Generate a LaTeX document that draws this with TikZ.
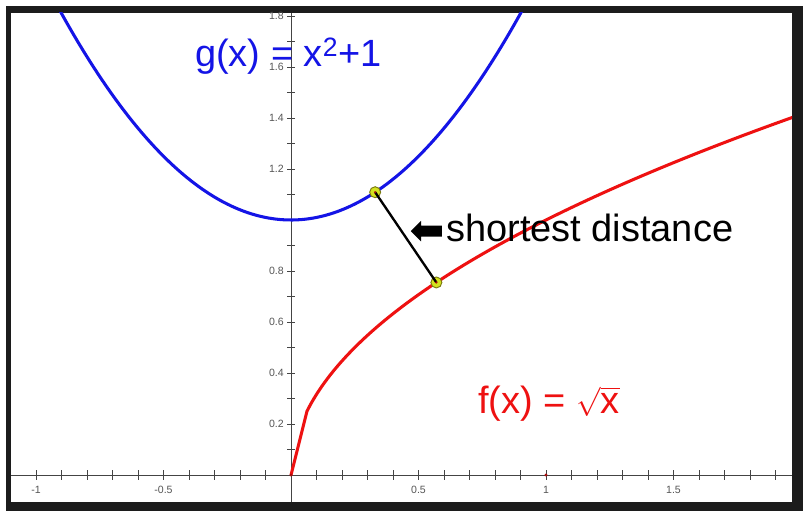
\documentclass[tikz,border=0pt]{standalone}
\usepackage{fontspec}
\setmainfont{Liberation Sans}
\usetikzlibrary{
  positioning,   % 节点相对定位
  shapes.arrows  % 粗箭头形状
}

\definecolor{framegray}{HTML}{1C1C1C}
\definecolor{axisgray}{HTML}{444444}
\definecolor{ticklabel}{HTML}{555555}
\definecolor{gblue}{HTML}{1414E6}
\definecolor{fred}{HTML}{EE1111}
\definecolor{markfill}{HTML}{D4E21E}
\definecolor{markline}{HTML}{7A7A10}

\begin{document}
\begin{tikzpicture}[x=7.65cm, y=7.65cm,
  ticklbl/.style={font=\fontsize{9}{10}\selectfont, text=ticklabel, inner sep=0pt},
  bigtext/.style={font=\fontsize{32.4}{38}\selectfont, inner sep=0pt},
  touchpt/.style={circle, fill=markfill, draw=markline, line width=0.8pt,
    minimum size=0.33cm, inner sep=0pt}]
  \useasboundingbox (-1.1412,-0.1412) rectangle (2.0078,1.8627);

  % 外框与白色绘图区
  \fill[framegray] (-1.1176,-0.1412) rectangle (2.0078,1.8392);
  \fill[white] (-1.0980,-0.1059) rectangle (1.9647,1.8118);

  % 坐标轴
  \draw[axisgray, line width=0.8pt] (-1.0980,0) -- (1.9647,0);
  \draw[axisgray, line width=0.8pt] (0,-0.1059) -- (0,1.8118);

  % 刻度线
  \foreach \t in {-10,...,19} {
    \ifnum\t=0\else
      \draw[axisgray, line width=0.7pt] (\t/10,-0.0196) -- (\t/10,0.0196);
    \fi
  }
  \foreach \t in {1,...,18}
    \draw[axisgray, line width=0.7pt] (-0.0157,\t/10) -- (0.0157,\t/10);

  % 刻度数字
  \foreach \v/\n in {-1/a,-0.5/b,0.5/c,1/d,1.5/e}
    \node[ticklbl, anchor=north] (xlab\n) at (\v,-0.0431) {\v};
  \foreach \v/\n in {0.2/a,0.4/b,0.6/c,0.8/d,1.2/e,1.4/f,1.6/g,1.8/h}
    \node[ticklbl, anchor=east] (ylab\n) at (-0.0275,\v) {\v};

  % 两条曲线
  \begin{scope}
    \clip (-1.0980,-0.1059) rectangle (1.9647,1.8118);
    \draw[gblue, line width=2.6pt]
      plot[domain=-0.95:0.95, samples=120, smooth] (\x,{\x*\x+1});
    \draw[fred, line width=2.6pt] (0,0) --
      plot[domain=0.0625:2, samples=120, smooth] (\x,{sqrt(\x)});
  \end{scope}
  \fill[fred!70!black] (0,0) circle (0.006);
  \fill[fred!70!black] (1,0) circle (0.006);

  % 最短距离线段
  \node[touchpt] (gpt) at (0.33,1.1089) {};
  \node[touchpt] (fpt) at (0.57,0.7550) {};
  \draw[black, line width=2pt] (gpt.center) -- (fpt.center);
  \fill[fred!70!black] (gpt.center) circle (0.005);
  \fill[fred!70!black] (fpt.center) circle (0.005);

  % 文字标注
  \node[bigtext, anchor=base west] (distlabel) at (0.6078,0.9176) {shortest distance};
  \node[single arrow, shape border rotate=180, fill=black, inner xsep=0pt, inner ysep=0.16cm,
    minimum height=0.93cm, minimum width=0.6cm, single arrow head extend=0.14cm,
    left=0.12cm of distlabel, yshift=-0.11cm] (arrowmark) {};
  \node[bigtext, text=gblue, anchor=base west] (glabel) at (-0.3765,1.6) {g(x) = x\textsuperscript{2}+1};
  \node[bigtext, text=fred, anchor=base west] (flabel) at (0.7333,0.2431)
    {f(x) = \(\sqrt{\mbox{x}}\)};
\end{tikzpicture}
\end{document}
